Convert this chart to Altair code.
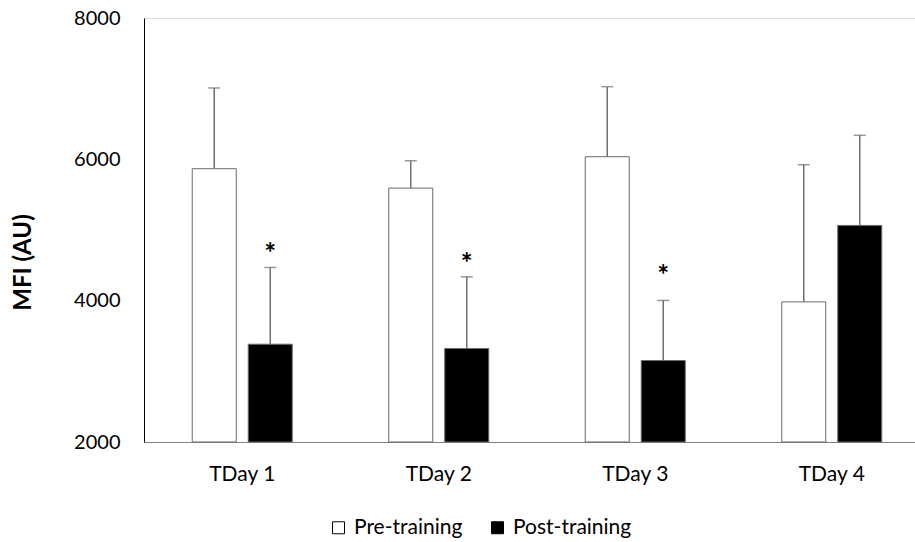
import altair as alt
import pandas as pd

days = ["TDay 1", "TDay 2", "TDay 3", "TDay 4"]
groups = ["Pre-training", "Post-training"]
pre_mean = [5867, 5593, 6037, 3983]
pre_err = [1143, 387, 991, 1940]
post_mean = [3384, 3323, 3153, 5065]
post_err = [1086, 1014, 850, 1275]
star_days = ["TDay 1", "TDay 2", "TDay 3"]
star_y = [4744, 4600, 4430]

rows = []
for d, m, e in zip(days, pre_mean, pre_err):
    rows.append({"day": d, "group": groups[0], "mean": m, "top": m + e})
for d, m, e in zip(days, post_mean, post_err):
    rows.append({"day": d, "group": groups[1], "mean": m, "top": m + e})
df = pd.DataFrame(rows)
stars = pd.DataFrame({"day": star_days, "group": [groups[1]] * 3, "y": star_y, "t": ["*"] * 3})

FONT = "Lato"

x = alt.X("day:N", sort=days, title=None,
          scale=alt.Scale(range=[0, 786], paddingInner=0.491, paddingOuter=0.2455),
          axis=alt.Axis(labelAngle=0, labelFontSize=21, labelColor="black", ticks=False,
                        labelPadding=21, domainColor="#808080", labelFont=FONT))
xo = alt.XOffset("group:N", sort=groups, scale=alt.Scale(paddingInner=0.214, paddingOuter=0))
yscale = alt.Scale(domain=[2000, 8000], zero=False, nice=False)

bars = alt.Chart(df).mark_bar(stroke="#6b6b6b", strokeWidth=1).encode(
    x=x, xOffset=xo,
    y=alt.Y("mean:Q", scale=yscale, title="MFI (AU)",
            axis=alt.Axis(values=[2000, 4000, 6000, 8000], format="d", ticks=False, tickSize=0,
                          labelPadding=24, labelFontSize=20, labelColor="black", labelFont=FONT,
                          domainColor="black", grid=False, titleFont=FONT, titleFontSize=24,
                          titleFontWeight="bold", titleColor="black", titleX=-121, titleY=244,
                          titleAlign="center", titleBaseline="middle", titleAngle=270)),
    y2=alt.datum(2000),
    fill=alt.Fill("group:N", sort=groups,
                  scale=alt.Scale(domain=groups, range=["white", "black"]),
                  legend=alt.Legend(title=None, orient="none", direction="horizontal",
                                    legendX=184, legendY=499, symbolType="square", symbolSize=144,
                                    symbolStrokeColor="black", symbolStrokeWidth=1,
                                    labelFontSize=21, labelFont=FONT, labelColor="black",
                                    labelOffset=5, columnPadding=24, padding=0)),
)

rules = alt.Chart(df).mark_rule(color="#6f6f6f", strokeWidth=1.5).encode(
    x=x, xOffset=xo, y=alt.Y("mean:Q", scale=yscale), y2="top:Q")

caps = alt.Chart(df).mark_tick(color="#6f6f6f", thickness=1.5, size=12).encode(
    x=x, xOffset=xo, y=alt.Y("top:Q", scale=yscale))

star_marks = alt.Chart(stars).mark_text(font=FONT, fontSize=28, fontWeight="bold",
                                        color="black", baseline="middle", dy=7).encode(
    x=x, xOffset=xo, y=alt.Y("y:Q", scale=yscale), text="t:N")

chart = alt.layer(bars, rules, caps, star_marks).properties(
    width=771, height=424,
    autosize=alt.AutoSizeParams(type="none"),
    padding={"left": 144, "top": 18, "right": 0, "bottom": 100},
).configure_view(stroke=None).configure(background="white")

chart.save("out.html", embed_options={"renderer": "svg", "actions": False})
